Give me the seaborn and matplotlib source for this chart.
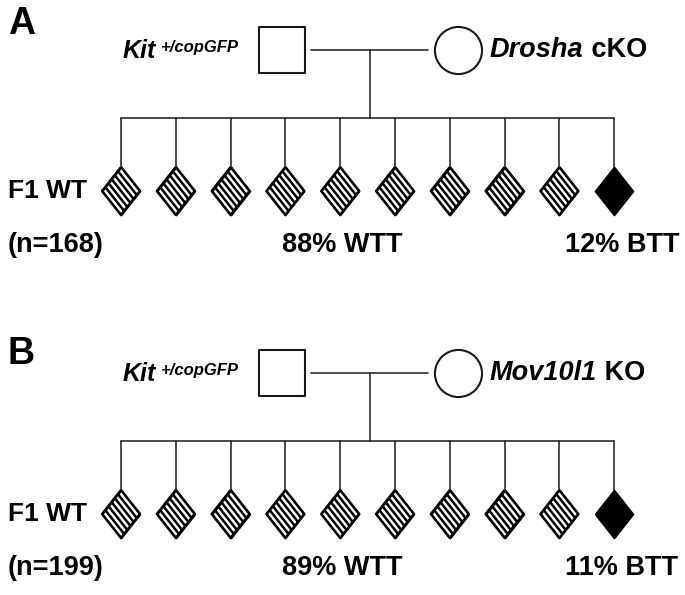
import numpy as np
import matplotlib
matplotlib.use("Agg")
import matplotlib.pyplot as plt
from matplotlib.path import Path
from matplotlib.markers import MarkerStyle
import seaborn as sns

# pedigree data
panels = ["A", "B"]
sire_gene = ["Kit", "Kit"]
sire_allele = ["+/copGFP", "+/copGFP"]
dam_gene = ["Drosha", "Mov10l1"]
dam_type = ["cKO", "KO"]
offspring_label = ["F1 WT", "F1 WT"]
n_mice = [168, 199]
wtt_pct = [88, 89]
btt_pct = [12, 11]
n_wtt_symbols = [9, 9]
n_btt_symbols = [1, 1]

sns.set_theme(style="white")
plt.rcParams["font.family"] = ["Liberation Sans", "DejaVu Sans"]
plt.rcParams["text.color"] = "black"

fig = plt.figure(figsize=(6.85, 5.95), dpi=100)
ax = fig.add_axes([0, 0, 1, 1])

# diamond marker, plus a striped version (stripes parallel to the upper-right edge)
w, h = 0.395, 0.5
T, R, B, L = np.array([0, h]), np.array([w, 0]), np.array([0, -h]), np.array([-w, 0])
outline = [T, R, B, L, T]
diamond = MarkerStyle(Path(outline, [Path.MOVETO] + [Path.LINETO] * 3 + [Path.CLOSEPOLY]))
verts, codes = list(outline), [Path.MOVETO] + [Path.LINETO] * 4
for t in np.arange(1, 6) / 6:
    verts += [L + t * (T - L), B + t * (R - B)]
    codes += [Path.MOVETO, Path.LINETO]
stripes = MarkerStyle(Path(verts, codes), fillstyle="none")

lc = "#1a1a1a"
x_first, x_step = 121, 54.8
sire_x, dam_x, drop_x = 282, 458, 370
panel_y = [24, 354]
y_shift = [0, 323]

for i, p in enumerate(panels):
    dy = y_shift[i]
    parent_y = 50 + dy
    sib_y = 118 + dy
    kid_y = 191 + dy
    txt_y = 245 + dy

    ax.text(8, panel_y[i], p, fontsize=27, fontweight="bold", va="center", ha="left")

    # parents
    sns.scatterplot(x=[sire_x], y=[parent_y], marker="s", s=1130, color="white",
                    edgecolor=lc, linewidth=1.5, ax=ax, zorder=3)
    sns.scatterplot(x=[dam_x], y=[parent_y], marker="o", s=1150, color="white",
                    edgecolor=lc, linewidth=1.5, ax=ax, zorder=3)
    ax.plot([311, 428], [parent_y, parent_y], color=lc, lw=1.1, zorder=1)
    ax.plot([drop_x, drop_x], [parent_y, sib_y], color=lc, lw=1.1, zorder=1)

    # parent labels
    t = ax.text(123, parent_y + 1, sire_gene[i], fontsize=18, fontweight="bold",
                style="italic", va="center", ha="left")
    ax.annotate(sire_allele[i], xy=(1, 0.64), xycoords=t, xytext=(3, 0),
                textcoords="offset points", fontsize=12, fontweight="bold",
                style="italic", va="center", ha="left")
    t2 = ax.text(490, parent_y, dam_gene[i], fontsize=19.5, fontweight="bold",
                 style="italic", va="center", ha="left")
    ax.annotate(" " + dam_type[i], xy=(1, 0.5), xycoords=t2, fontsize=19.5,
                fontweight="bold", va="center", ha="left")

    # offspring
    n_kids = n_wtt_symbols[i] + n_btt_symbols[i]
    kid_x = x_first + x_step * np.arange(n_kids)
    ax.plot([kid_x[0], kid_x[-1]], [sib_y, sib_y], color=lc, lw=1.1, zorder=1)
    for kx in kid_x:
        ax.plot([kx, kx], [sib_y, kid_y - 24], color=lc, lw=1.1, zorder=1)
    wx = kid_x[:n_wtt_symbols[i]]
    bx = kid_x[n_wtt_symbols[i]:]
    sns.scatterplot(x=wx, y=[kid_y] * len(wx), marker=diamond, s=1190, color="white",
                    edgecolor="black", linewidth=1.3, ax=ax, zorder=3)
    sns.scatterplot(x=wx, y=[kid_y] * len(wx), marker=stripes, s=1190, color="black",
                    linewidth=1.8, ax=ax, zorder=4)
    sns.scatterplot(x=bx, y=[kid_y] * len(bx), marker=diamond, s=1190, color="black",
                    edgecolor="black", linewidth=1.3, ax=ax, zorder=3)

    ax.text(8, kid_y, offspring_label[i], fontsize=19, fontweight="bold", va="center", ha="left")
    ax.text(8, txt_y, f"(n={n_mice[i]})", fontsize=19.5, fontweight="bold", va="center", ha="left")
    ax.text(282, txt_y, f"{wtt_pct[i]}% WTT", fontsize=19.5, fontweight="bold", va="center", ha="left")
    ax.text(565, txt_y, f"{btt_pct[i]}% BTT", fontsize=19.5, fontweight="bold", va="center", ha="left")

ax.set_xlim(0, 685)
ax.set_ylim(595, 0)
ax.axis("off")
fig.savefig("out.png", dpi=100)
